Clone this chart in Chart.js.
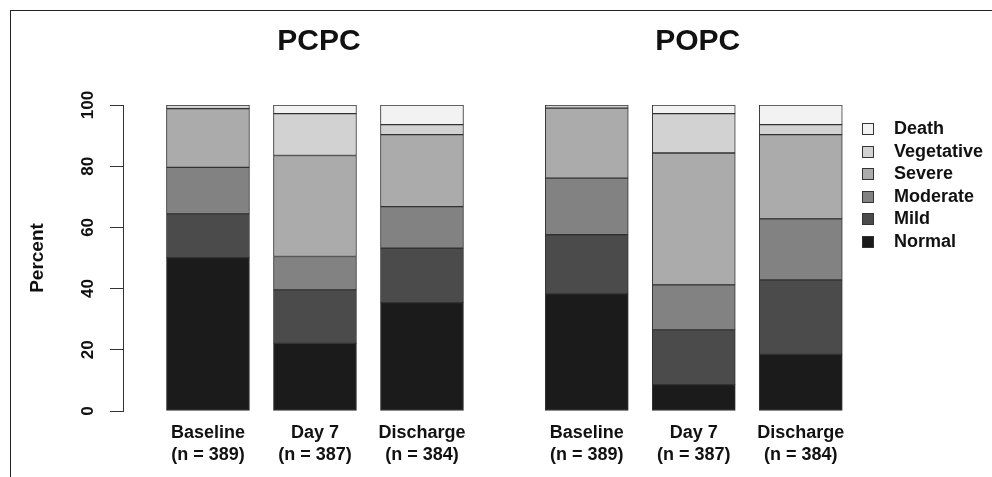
<!DOCTYPE html>
<html>
<head>
<meta charset="utf-8">
<title>PCPC / POPC outcome distribution</title>
<script src="https://cdn.jsdelivr.net/npm/chart.js@4.4.1/dist/chart.umd.min.js"></script>
<style>
  body { margin: 0; background: #fff; }
  #wrap { position: relative; width: 992px; height: 477px; overflow: hidden; }
  #frame { position: absolute; left: 10px; top: 10px; width: 1000px; height: 500px;
           border-top: 1px solid #222; border-left: 1px solid #222; }
  #legend { position: absolute; left: 862px; top: 117px; margin: 0; padding: 0; list-style: none;
            font: bold 18px "Liberation Sans", Arial, sans-serif; color: #111; }
  #legend li { height: 22.5px; line-height: 22.5px; white-space: nowrap; }
  #legend span { display: inline-block; width: 10px; height: 10px; border: 1px solid #333;
                 margin-right: 20px; vertical-align: -1px; }
</style>
</head>
<body>
<div id="wrap">
  <div id="frame"></div>
  <canvas id="chart" width="992" height="477"></canvas>
  <ul id="legend"></ul>
</div>
<script>
const panels = ['PCPC', 'POPC'];
const timepoints = ['Baseline', 'Day 7', 'Discharge'];
const sampleSizes = ['(n = 389)', '(n = 387)', '(n = 384)'];

// percent of patients, order: PCPC baseline/day 7/discharge, then POPC baseline/day 7/discharge
const normal     = [50.1, 22.1, 35.4, 38.3,  8.6, 18.5];
const mild       = [14.3, 17.5, 17.8, 19.3, 17.9, 24.3];
const moderate   = [15.2, 10.9, 13.6, 18.5, 14.7, 20.0];
const severe     = [19.2, 33.0, 23.5, 22.9, 43.1, 27.5];
const vegetative = [ 1.2, 13.7,  3.3,  1.0, 12.9,  3.3];
const death      = [ 0.0,  2.8,  6.4,  0.0,  2.8,  6.4];

const outcomes = [
    { label: 'Normal', values: normal, color: '#1b1b1b' },
    { label: 'Mild', values: mild, color: '#4b4b4b' },
    { label: 'Moderate', values: moderate, color: '#828282' },
    { label: 'Severe', values: severe, color: '#ababab' },
    { label: 'Vegetative', values: vegetative, color: '#d2d2d2' },
    { label: 'Death', values: death, color: '#f2f2f2' }
];

// bar centres on the x axis, second panel shifted right by a gap
const xPos = [];
panels.forEach((_, p) => timepoints.forEach((_, i) => xPos.push(p * 3.54 + i)));

const fontFamily = '"Liberation Sans", Arial, sans-serif';
Chart.defaults.font.family = fontFamily;

const panelTitles = {
    id: 'panelTitles',
    afterDraw(chart) {
        const ctx = chart.ctx;
        const x = chart.scales.x;
        ctx.save();
        ctx.font = 'bold 30px ' + fontFamily;
        ctx.fillStyle = '#111';
        ctx.textAlign = 'center';
        ctx.textBaseline = 'middle';
        panels.forEach((name, p) => {
            ctx.fillText(name, x.getPixelForValue(xPos[p * 3 + 1]) + 4, 42);
        });
        ctx.restore();
    }
};

new Chart(document.getElementById('chart'), {
    type: 'bar',
    data: {
        datasets: outcomes.map(o => ({
            label: o.label,
            data: o.values.map((v, k) => ({ x: xPos[k], y: v })),
            backgroundColor: o.color,
            borderColor: '#333',
            borderWidth: 1,
            borderSkipped: false,
            barThickness: 83
        }))
    },
    options: {
        responsive: false,
        animation: false,
        layout: { padding: { top: 105, left: 10, right: 142, bottom: 0 } },
        plugins: {
            legend: { display: false },
            tooltip: { enabled: false }
        },
        scales: {
            x: {
                type: 'linear',
                offset: false,
                min: -0.794,
                max: 6.0,
                stacked: true,
                grid: { display: false },
                border: { display: false },
                ticks: {
                    autoSkip: false,
                    maxRotation: 0,
                    padding: 2.5,
                    color: '#111',
                    font: { size: 18, weight: 'bold', lineHeight: 1.24 },
                    callback: (value, index) => [timepoints[index % 3], sampleSizes[index % 3]]
                },
                afterBuildTicks: scale => { scale.ticks = xPos.map(v => ({ value: v })); },
                afterFit: scale => { scale.height = 66; }
            },
            y: {
                min: 0,
                max: 100,
                stacked: true,
                ticks: {
                    stepSize: 20,
                    minRotation: 90,
                    maxRotation: 90,
                    crossAlign: 'center',
                    padding: 8,
                    color: '#111',
                    font: { size: 17, weight: 'bold' }
                },
                grid: { drawOnChartArea: false, drawTicks: true, tickLength: 13, color: '#333' },
                border: { display: true, color: '#333', width: 1 },
                title: {
                    display: true,
                    text: 'Percent',
                    color: '#111',
                    font: { size: 19, weight: 'bold' },
                    padding: { top: 16.5, bottom: 0 }
                },
                afterFit: scale => { scale.width = 113; }
            }
        }
    },
    plugins: [panelTitles]
});

// legend, Death on top as in the figure
const legend = document.getElementById('legend');
outcomes.slice().reverse().forEach(o => {
    const li = document.createElement('li');
    const box = document.createElement('span');
    box.style.background = o.color;
    li.appendChild(box);
    li.appendChild(document.createTextNode(o.label));
    legend.appendChild(li);
});
</script>
</body>
</html>
